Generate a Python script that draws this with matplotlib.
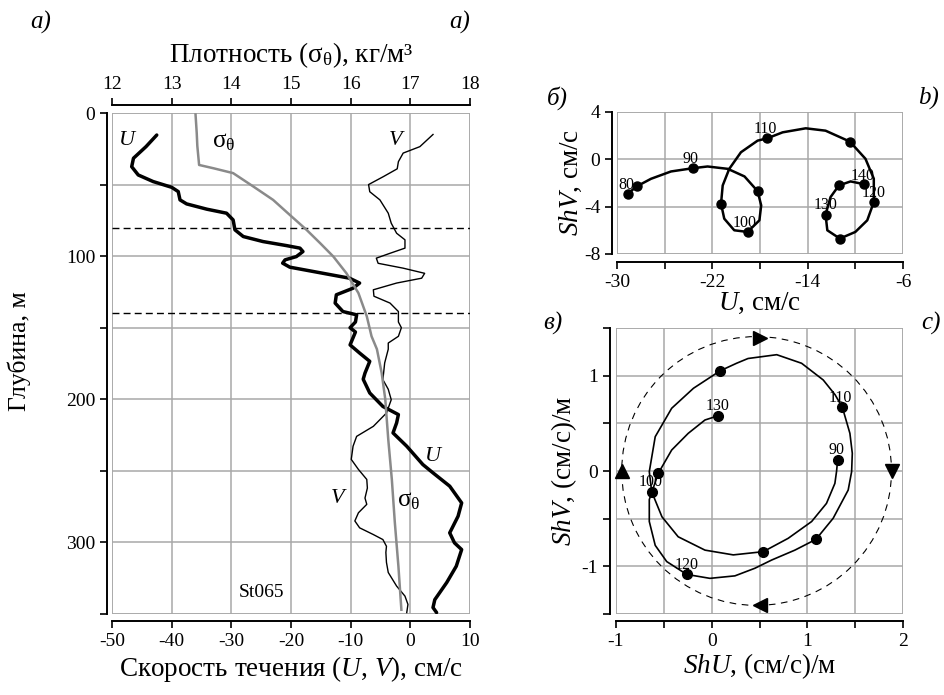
import numpy as np
import matplotlib

matplotlib.use('agg')
import matplotlib.pyplot as plt
from matplotlib.patches import Circle

plt.rcParams['font.family'] = ['Liberation Serif', 'DejaVu Serif']
plt.rcParams['mathtext.fontset'] = 'custom'
plt.rcParams['mathtext.rm'] = 'Liberation Serif'
plt.rcParams['mathtext.it'] = 'Liberation Serif:italic'
plt.rcParams['mathtext.default'] = 'regular'
plt.rcParams['axes.unicode_minus'] = False

# --- panel a: profiles (depth, m) ---
u_depth = [15.4, 23.5, 31.6, 37.5, 43.3, 47.9, 51.9, 54.9, 60.7, 63.5, 67.2, 70, 74.7,
           81.6, 86.3, 89.8, 92.6, 94.4, 96.8, 100.3, 102.6, 104.9, 107.7, 110.7, 115.4,
           118.8, 122.4, 127, 132.8, 138.7, 141, 146, 150, 153, 162, 167.7, 173.5, 181.7,
           186, 195.6, 205, 210.7, 216.5, 223.5, 232.8, 245.6, 251.4, 260.7, 272.4, 281.7,
           293.3, 300.3, 305, 316.6, 328, 340, 345.5, 349]
u_vals = [-42.5, -44.3, -46.4, -46.7, -45.6, -43.1, -40.0, -38.9, -38.6, -37.5, -34.1,
          -30.8, -29.7, -29.4, -28.0, -24.7, -20.8, -18.5, -18.0, -19.1, -21.0, -21.4,
          -20.2, -16.3, -10.2, -8.5, -9.6, -12.4, -12.6, -11.3, -9.0, -9.2, -10.1, -9.2,
          -10.1, -8.5, -6.8, -7.6, -7.9, -6.8, -4.6, -2.0, -2.3, -2.9, -0.6, 2.1, 3.8, 6.6,
          8.6, 8.0, 6.6, 7.4, 8.6, 7.7, 6.1, 4.1, 3.8, 4.4]

v_depth = [15, 23.5, 28, 34, 39, 44.4, 50, 55, 60.7, 70, 77, 84, 88.6, 94.4, 98, 101.4,
           105, 108.4, 112, 115.4, 118.8, 123.5, 128, 132.8, 138.7, 146, 150, 156, 160.7,
           165, 174.6, 186.3, 193, 200.3, 209.6, 218.9, 225.9, 232.8, 242, 249, 256, 262,
           269, 273.4, 279.3, 285, 289.8, 294.5, 298, 302.7, 307, 314, 321, 330.5, 337.5,
           343.3, 349]
v_vals = [3.8, 1.6, -1.2, -2.0, -2.2, -4.5, -7.0, -6.8, -5.1, -3.7, -3.2, -2.3, -0.9, -0.9,
          -3.4, -5.7, -5.4, -1.2, 2.4, 1.9, -2.3, -6.2, -6.1, -3.4, -2.0, -2.0, -1.5, -2.0,
          -3.7, -3.7, -4.3, -4.6, -3.7, -3.2, -4.0, -6.2, -9.0, -9.6, -9.9, -8.7, -7.3, -7.2,
          -7.6, -7.3, -8.7, -9.3, -8.5, -6.2, -4.6, -4.0, -4.1, -4.0, -3.7, -2.3, -0.9, -0.4,
          -0.6]

sig_depth = [1, 14, 23, 36.3, 38.6, 42, 51.4, 60.7, 71.2, 81.6, 91, 100.3, 112, 125.8,
             142, 156, 165, 181.7, 200, 228, 256, 286, 316.6, 347]
sig_vals = [13.40, 13.42, 13.43, 13.46, 13.70, 14.03, 14.37, 14.70, 14.98, 15.26, 15.49,
            15.71, 15.93, 16.13, 16.27, 16.35, 16.44, 16.52, 16.58, 16.63, 16.69, 16.74,
            16.80, 16.85]

layer_bounds = [80, 140]

# --- panel b: hodograph of shear vector, 80..140 m ---
hb_x = [-29.1, -28.35, -27.15, -25.47, -23.6, -22.4, -20.7, -19.3, -18.2, -17.9, -18.05,
        -19.04, -20.16, -21.0, -21.27, -21.13, -20.58, -19.6, -18.2, -17.38, -16.1, -14.16,
        -12.5, -10.46, -9.15, -8.45, -8.45, -9.0, -10.0, -11.3, -12.35, -12.5, -12.08,
        -11.38, -10.4, -9.28]
hb_y = [-2.92, -2.30, -1.66, -1.04, -0.76, -0.62, -0.82, -1.46, -2.70, -3.9, -5.16, -6.14,
        -6.0, -5.02, -3.76, -2.22, -0.82, 0.58, 1.56, 1.76, 2.26, 2.6, 2.4, 1.48, 0.03,
        -1.65, -3.62, -5.16, -6.14, -6.7, -6.0, -4.68, -3.2, -2.22, -1.88, -2.11]
pb_x = [-29.1, -28.35, -23.6, -18.2, -19.04, -21.27, -17.38, -10.46, -8.45, -11.3, -12.5,
        -11.38, -9.28]
pb_y = [-2.92, -2.30, -0.76, -2.70, -6.14, -3.76, 1.76, 1.48, -3.62, -6.7, -4.68, -2.22,
        -2.11]
lb_text = ['80', '90', '100', '110', '120', '130', '140']
lb_x = [-29.25, -23.8, -19.3, -17.55, -8.45, -12.5, -9.35]
lb_y = [-2.15, 0.0, -5.4, 2.55, -2.83, -3.85, -1.4]

# --- panel c: hodograph ShU, ShV, 90..130 m ---
hc_x = [1.317, 1.306, 1.288, 1.20, 1.045, 0.80, 0.54, 0.226, -0.07, -0.35, -0.52, -0.627,
        -0.652, -0.59, -0.418, -0.19, 0.087, 0.26, 0.38, 0.68, 0.94, 1.166, 1.29, 1.366,
        1.445, 1.47, 1.463, 1.427, 1.27, 1.09, 0.87, 0.627, 0.452, 0.243, -0.018, -0.26,
        -0.47, -0.59, -0.652, -0.652, -0.558, -0.418, -0.245, -0.07, 0.069]
hc_y = [0.12, 0.0, -0.13, -0.34, -0.53, -0.706, -0.846, -0.88, -0.83, -0.69, -0.48, -0.217,
        -0.007, 0.36, 0.658, 0.868, 1.05, 1.13, 1.18, 1.22, 1.13, 0.955, 0.80, 0.668, 0.395,
        0.186, -0.007, -0.20, -0.496, -0.717, -0.83, -0.934, -1.02, -1.10, -1.126, -1.085,
        -0.95, -0.78, -0.53, -0.30, -0.024, 0.22, 0.395, 0.535, 0.58]
pc_x = [1.317, 0.54, -0.627, 0.087, 1.366, 1.09, -0.26, -0.558, 0.069]
pc_y = [0.12, -0.846, -0.217, 1.05, 0.668, -0.717, -1.085, -0.024, 0.58]
lc_text = ['90', '100', '110', '120', '130']
lc_x = [1.30, -0.634, 1.35, -0.26, 0.063]
lc_y = [0.22, -0.12, 0.77, -0.99, 0.68]
circ_center = (0.47, 0.0)
circ_radius = 1.41
arr_x = [0.5, 1.88, 0.5, -0.94]
arr_y = [1.39, 0.0, -1.41, 0.0]
arr_mk = ['>', 'v', '<', '^']

GRID = '#a8a8a8'
FS_TICK = 14
FS_LAB = 19.5


def _style(ax, left_off, bottom_off):
    ax.grid(True, color=GRID, lw=1.1)
    ax.set_axisbelow(True)
    for s in ('top', 'right'):
        ax.spines[s].set_visible(False)
    ax.spines['left'].set_position(('outward', left_off))
    ax.spines['bottom'].set_position(('outward', bottom_off))
    for s in ('left', 'bottom'):
        ax.spines[s].set_linewidth(1.4)
    ax.tick_params(direction='out', length=5, width=1.2, labelsize=FS_TICK)
    # gray frame round the data box
    ax.add_patch(plt.Rectangle((0, 0), 1, 1, transform=ax.transAxes, fill=False,
                               ec=GRID, lw=1.1, zorder=0.5))


fig = plt.figure(figsize=(9.44, 6.95), dpi=100)

# ---------------- panel a ----------------
ax = fig.add_axes([112 / 944, 1 - 614 / 695, 358 / 944, 501 / 695])
ax.set_xlim(-50, 10)
ax.set_ylim(350, 0)
ax.set_xticks(np.arange(-50, 11, 10))
ax.set_yticks(np.arange(0, 351, 50))
ax.set_yticklabels([str(v) if v % 100 == 0 else '' for v in range(0, 351, 50)])
_style(ax, 3.6, 5)
ax.plot(u_vals, u_depth, color='k', lw=2.5, solid_capstyle='round',
        solid_joinstyle='round')
ax.plot(v_vals, v_depth, color='k', lw=1.0, solid_joinstyle='round')
for d in layer_bounds:
    ax.axhline(d, color='k', lw=1.0, ls=(0, (5, 3)))
ax.set_xlabel('Скорость течения ($\\mathit{U}$, $\\mathit{V}$), см/с', fontsize=FS_LAB,
              labelpad=3)
ax.set_ylabel('Глубина, м', fontsize=18.5)
ax.yaxis.set_label_coords(-0.225, 0.524)
ax.text(-47.5, 19, 'U', style='italic', fontsize=16, ha='center', va='center')
ax.text(-2.4, 19, 'V', style='italic', fontsize=16, ha='center', va='center')
ax.text(3.8, 240, 'U', style='italic', fontsize=16, ha='center', va='center')
ax.text(-12.1, 269, 'V', style='italic', fontsize=16, ha='center', va='center')
ax.text(-31.2, 20, '$σ_θ$', fontsize=18, ha='center', va='center')
ax.text(-0.3, 271, '$σ_θ$', fontsize=18, ha='center', va='center')
ax.text(-24.9, 335, 'St065', fontsize=14, ha='center', va='center')

ax2 = ax.twiny()
ax2.set_xlim(12, 18)
ax2.set_xticks(np.arange(12, 19, 1))
for s in ('bottom', 'left', 'right'):
    ax2.spines[s].set_visible(False)
ax2.spines['top'].set_position(('outward', 5.8))
ax2.spines['top'].set_linewidth(1.4)
ax2.tick_params(direction='out', length=5, width=1.2, labelsize=FS_TICK)
ax2.plot(sig_vals, sig_depth, color='#8a8a8a', lw=1.8)
ax2.set_xlabel('Плотность ($σ_θ$), кг/м³', fontsize=FS_LAB, labelpad=10)

# ---------------- panel b ----------------
axb = fig.add_axes([617 / 944, 1 - 254 / 695, 286 / 944, 142.3 / 695])
axb.set_xlim(-30, -6)
axb.set_ylim(-8, 4)
axb.set_xticks(np.arange(-30, -5, 4))
axb.set_xticklabels([str(v) if (v + 30) % 8 == 0 else '' for v in range(-30, -5, 4)])
axb.set_yticks([-8, -4, 0, 4])
_style(axb, 3.6, 5.8)
axb.plot(hb_x, hb_y, color='k', lw=1.8, solid_joinstyle='round')
axb.plot(pb_x, pb_y, 'o', color='k', ms=6.5)
for t, x, y in zip(lb_text, lb_x, lb_y):
    axb.text(x, y, t, fontsize=11.5, ha='center', va='center')
axb.set_xlabel('$\\mathit{U}$, см/с', fontsize=FS_LAB, labelpad=0)
axb.set_ylabel('$\\mathit{ShV}$, см/с', fontsize=FS_LAB, labelpad=0)

# ---------------- panel c ----------------
axc = fig.add_axes([616 / 944, 1 - 614 / 695, 287 / 944, 286 / 695])
axc.set_xlim(-1, 2)
axc.set_ylim(-1.5, 1.5)
xt = np.arange(-1, 2.01, 0.5)
yt = np.arange(-1.5, 1.51, 0.5)
axc.set_xticks(xt)
axc.set_xticklabels([f'{v:.0f}' if v == int(v) else '' for v in xt])
axc.set_yticks(yt)
axc.set_yticklabels([f'{v:.0f}' if v == int(v) else '' for v in yt])
_style(axc, 4.3, 5)
axc.add_patch(Circle(circ_center, circ_radius, fill=False, ec='k', lw=0.8,
                     ls=(0, (6, 5))))
for x, y, m in zip(arr_x, arr_y, arr_mk):
    axc.plot(x, y, marker=m, color='k', ms=10, clip_on=False)
axc.plot(hc_x, hc_y, color='k', lw=1.2)
axc.plot(pc_x, pc_y, 'o', color='k', ms=7)
for t, x, y in zip(lc_text, lc_x, lc_y):
    axc.text(x, y, t, fontsize=11.5, ha='center', va='center')
axc.set_xlabel('$\\mathit{ShU}$, (см/с)/м', fontsize=FS_LAB, labelpad=1)
axc.set_ylabel('$\\mathit{ShV}$, (см/с)/м', fontsize=FS_LAB, labelpad=2)

# panel letters
for x, y, t in [(41, 22, 'а)'), (460, 22, 'a)'), (557, 98, 'б)'), (929, 98, 'b)'),
                (553, 323, 'в)'), (931, 323, 'c)')]:
    fig.text(x / 944, 1 - y / 695, t, style='italic', fontsize=18, ha='center',
             va='center')

fig.savefig('out.png', dpi=100)
